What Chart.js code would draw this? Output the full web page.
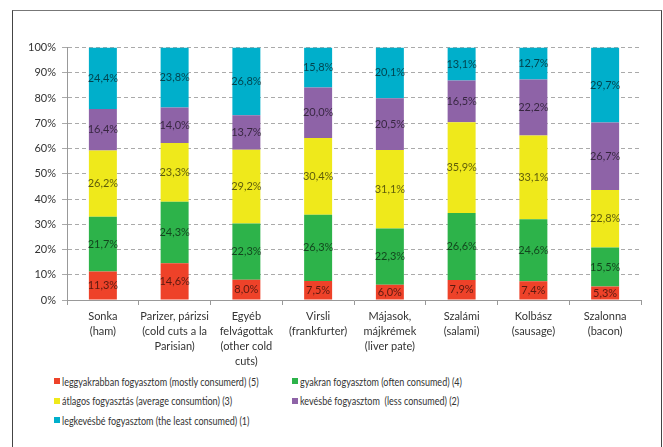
<!DOCTYPE html>
<html>
<head>
<meta charset="utf-8">
<script src="https://cdn.jsdelivr.net/npm/chart.js@4.4.1/dist/chart.umd.min.js"></script>
<style>
  body { margin: 0; background: #fff; font-family: Lato, "Liberation Sans", sans-serif; }
  #frame { position: absolute; left: 12px; top: 10px; width: 648px; height: 460px; border: 1.5px solid #444; border-top-color: #777; }
  #wrap { position: absolute; left: 0; top: 0; width: 663px; height: 370px; }
  #legend { position: absolute; left: 54px; top: 374px; display: grid; grid-template-columns: 238px 300px; row-gap: 5px; font-size: 11px; color: #333; }
  #legend div { display: flex; align-items: center; height: 14.5px; white-space: pre; }
  #legend span.box { width: 6px; height: 6px; margin-right: 2px; flex-shrink: 0; display: inline-block; }
  #legend span.txt { display: inline-block; transform: scaleX(0.82); transform-origin: left center; }
</style>
</head>
<body>
<div id="frame"></div>
<div id="wrap"><canvas id="chart" width="663" height="370"></canvas></div>
<div id="legend"></div>
<script>
// Kategóriák (több soros címkék)
const categories = [
    ["Sonka", "(ham)"],
    ["Parizer, párizsi", "(cold cuts a la", "Parisian)"],
    ["Egyéb", "felvágottak", "(other cold", "cuts)"],
    ["Virsli", "(frankfurter)"],
    ["Májasok,", "májkrémek", "(liver pate)"],
    ["Szalámi", "(salami)"],
    ["Kolbász", "(sausage)"],
    ["Szalonna", "(bacon)"]
];

// Sorozatok
const mostly = [11.3, 14.6, 8.0, 7.5, 6.0, 7.9, 7.4, 5.3];
const often = [21.7, 24.3, 22.3, 26.3, 22.3, 26.6, 24.6, 15.5];
const average = [26.2, 23.3, 29.2, 30.4, 31.1, 35.9, 33.1, 22.8];
const less = [16.4, 14.0, 13.7, 20.0, 20.5, 16.5, 22.2, 26.7];
const least = [24.4, 23.8, 26.8, 15.8, 20.1, 13.1, 12.7, 29.7];

const seriesNames = [
    "leggyakrabban fogyasztom (mostly consumerd) (5)",
    "gyakran fogyasztom (often consumed) (4)",
    "átlagos fogyasztás (average consumtion) (3)",
    "kevésbé fogyasztom  (less consumed) (2)",
    "legkevésbé fogyasztom (the least consumed) (1)"
];
const seriesColors = ["#EE4229", "#2DB34A", "#EFE91B", "#8E63A7", "#00AFCB"];
const seriesData = [mostly, often, average, less, least];

const yTicks = [0, 10, 20, 30, 40, 50, 60, 70, 80, 90, 100];

// Értékcímkék a szegmensek közepére
const segmentLabels = {
    id: 'segmentLabels',
    afterDatasetsDraw(chart) {
        const ctx = chart.ctx;
        ctx.save();
        ctx.font = '11px Lato, "Liberation Sans", sans-serif';
        ctx.fillStyle = 'rgba(0,0,0,0.62)';
        ctx.textAlign = 'center';
        ctx.textBaseline = 'middle';
        chart.data.datasets.forEach((ds, i) => {
            chart.getDatasetMeta(i).data.forEach((bar, j) => {
                const txt = ds.data[j].toFixed(1).replace('.', ',') + '%';
                ctx.fillText(txt, bar.x, (bar.y + bar.base) / 2);
            });
        });
        ctx.restore();
    }
};

new Chart(document.getElementById('chart'), {
    type: 'bar',
    data: {
        labels: categories,
        datasets: seriesData.map((d, i) => ({
            label: seriesNames[i],
            data: d,
            backgroundColor: seriesColors[i],
            barPercentage: 0.39,
            categoryPercentage: 1
        }))
    },
    options: {
        responsive: false,
        animation: false,
        layout: { padding: { left: 12, top: 47.5, right: 22, bottom: 0 } },
        plugins: {
            legend: { display: false },
            tooltip: { enabled: false }
        },
        scales: {
            x: {
                stacked: true,
                afterFit: s => { s.height = 70; },
                grid: { drawOnChartArea: false, tickLength: 5, color: '#999' },
                border: { color: '#999' },
                ticks: { color: '#333', padding: 4, maxRotation: 0, autoSkip: false,
                         font: { family: 'Lato, "Liberation Sans", sans-serif', size: 11, lineHeight: 1.36 } }
            },
            y: {
                stacked: true,
                min: 0,
                max: 100,
                afterFit: s => { s.width = 55; },
                afterBuildTicks: s => { s.ticks = yTicks.map(v => ({ value: v })); },
                grid: { color: '#aaa', tickLength: 5 },
                border: { color: '#999', dash: [4, 3] },
                ticks: { color: '#333', padding: 6, callback: v => v + '%',
                         font: { family: 'Lato, "Liberation Sans", sans-serif', size: 11 } }
            }
        }
    },
    plugins: [segmentLabels]
});

// Jelmagyarázat két oszlopban
const legend = document.getElementById('legend');
seriesNames.forEach((name, i) => {
    const item = document.createElement('div');
    const box = document.createElement('span');
    box.className = 'box';
    box.style.background = seriesColors[i];
    const txt = document.createElement('span');
    txt.className = 'txt';
    txt.textContent = name;
    item.appendChild(box);
    item.appendChild(txt);
    legend.appendChild(item);
});
</script>
</body>
</html>
